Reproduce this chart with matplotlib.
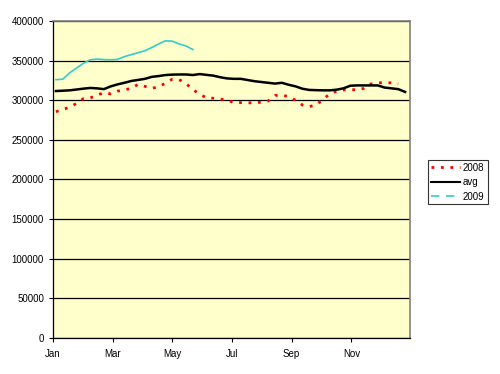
import matplotlib
matplotlib.use("Agg")
import matplotlib.pyplot as plt
from matplotlib.lines import Line2D

plt.rcParams['font.family'] = ['Liberation Sans', 'DejaVu Sans']

# weekly values, day of year = 7 * week + 3
avg = [311.6, 312, 312.5, 313.5, 314.6, 315.5, 315, 314, 317.5, 320,
       322, 324.3, 325.6, 327, 329.5, 330.5, 331.8, 332.3, 332.5, 332.5,
       331.8, 333, 332, 331, 329, 327.5, 327, 327, 325.5, 324,
       323, 322, 321, 322, 319.5, 317.5, 314.5, 313, 312.7, 312.5,
       312.5, 313.3, 315, 318.3, 318.7, 318.7, 318.7, 318.7, 316, 315,
       314, 310.5]
y2008 = [285.5, 288.5, 291, 296, 302, 302.8, 306.5, 309.5, 308, 311.5,
         313, 315, 320, 317.5, 315, 317, 321.5, 326.5, 326, 321,
         313.5, 307.5, 303, 302.5, 301.5, 300, 297, 297, 296.7, 296.8,
         297.5, 299, 306, 306.5, 304.5, 300, 294, 292, 294, 301,
         308, 311.5, 313, 313.5, 313, 315, 320.5, 322, 322, 322,
         320.5]
y2009 = [326, 326.5, 334.5, 340.5, 346.5, 351, 352, 351.3, 351, 351.5,
         355, 357.5, 360, 362.5, 366.5, 371, 375, 374.5, 371, 368.5,
         364]

tick_days = [0, 61, 122, 183, 244, 305]
tick_labels = ['Jan', 'Mar', 'May', 'Jul', 'Sep', 'Nov']


def days(values):
    return [7 * i + 3 for i in range(len(values))]


def thousands(values):
    return [v * 1000 for v in values]


fig = plt.figure(figsize=(5, 3.74), dpi=100)
ax = fig.add_axes([0.106, 0.0963, 0.714, 0.8476])
ax.set_facecolor('#FFFFCC')

ax.plot(days(y2008), thousands(y2008), color='#FF0000', lw=2, dashes=(1, 2.4))
ax.plot(days(avg), thousands(avg), color='black', lw=1.8)
ax.plot(days(y2009), thousands(y2009), color='#33CCCC', lw=1.2)

ax.set_xlim(0, 365)
ax.set_ylim(0, 400000)
ax.set_yticks(range(0, 400001, 50000))
ax.set_xticks(tick_days)
ax.set_xticklabels(tick_labels)
ax.tick_params(labelsize=7, length=3, direction='out', width=0.8)
ax.tick_params(axis='x', pad=5)

ax.grid(axis='y', color='black', lw=0.9)
ax.set_axisbelow(True)
for side in ('top', 'right'):
    ax.spines[side].set_color('#808080')
    ax.spines[side].set_linewidth(1.2)
for side in ('left', 'bottom'):
    ax.spines[side].set_color('black')
    ax.spines[side].set_linewidth(0.9)

# legend shows dashed cyan even though the dense line looks solid
handles = [
    Line2D([], [], color='#FF0000', lw=2, dashes=(1, 2.4)),
    Line2D([], [], color='black', lw=1.5),
    Line2D([], [], color='#33CCCC', lw=1.2, dashes=(5, 4)),
]
leg = fig.legend(handles, ['2008', 'avg', '2009'], loc='center left',
                 bbox_to_anchor=(0.856, 0.513), fontsize=7, frameon=True,
                 fancybox=False, edgecolor='black', handlelength=3.0,
                 handletextpad=0.3, borderpad=0.3, labelspacing=0.45,
                 borderaxespad=0)
leg.get_frame().set_linewidth(0.8)

fig.savefig('out.png', dpi=100)
